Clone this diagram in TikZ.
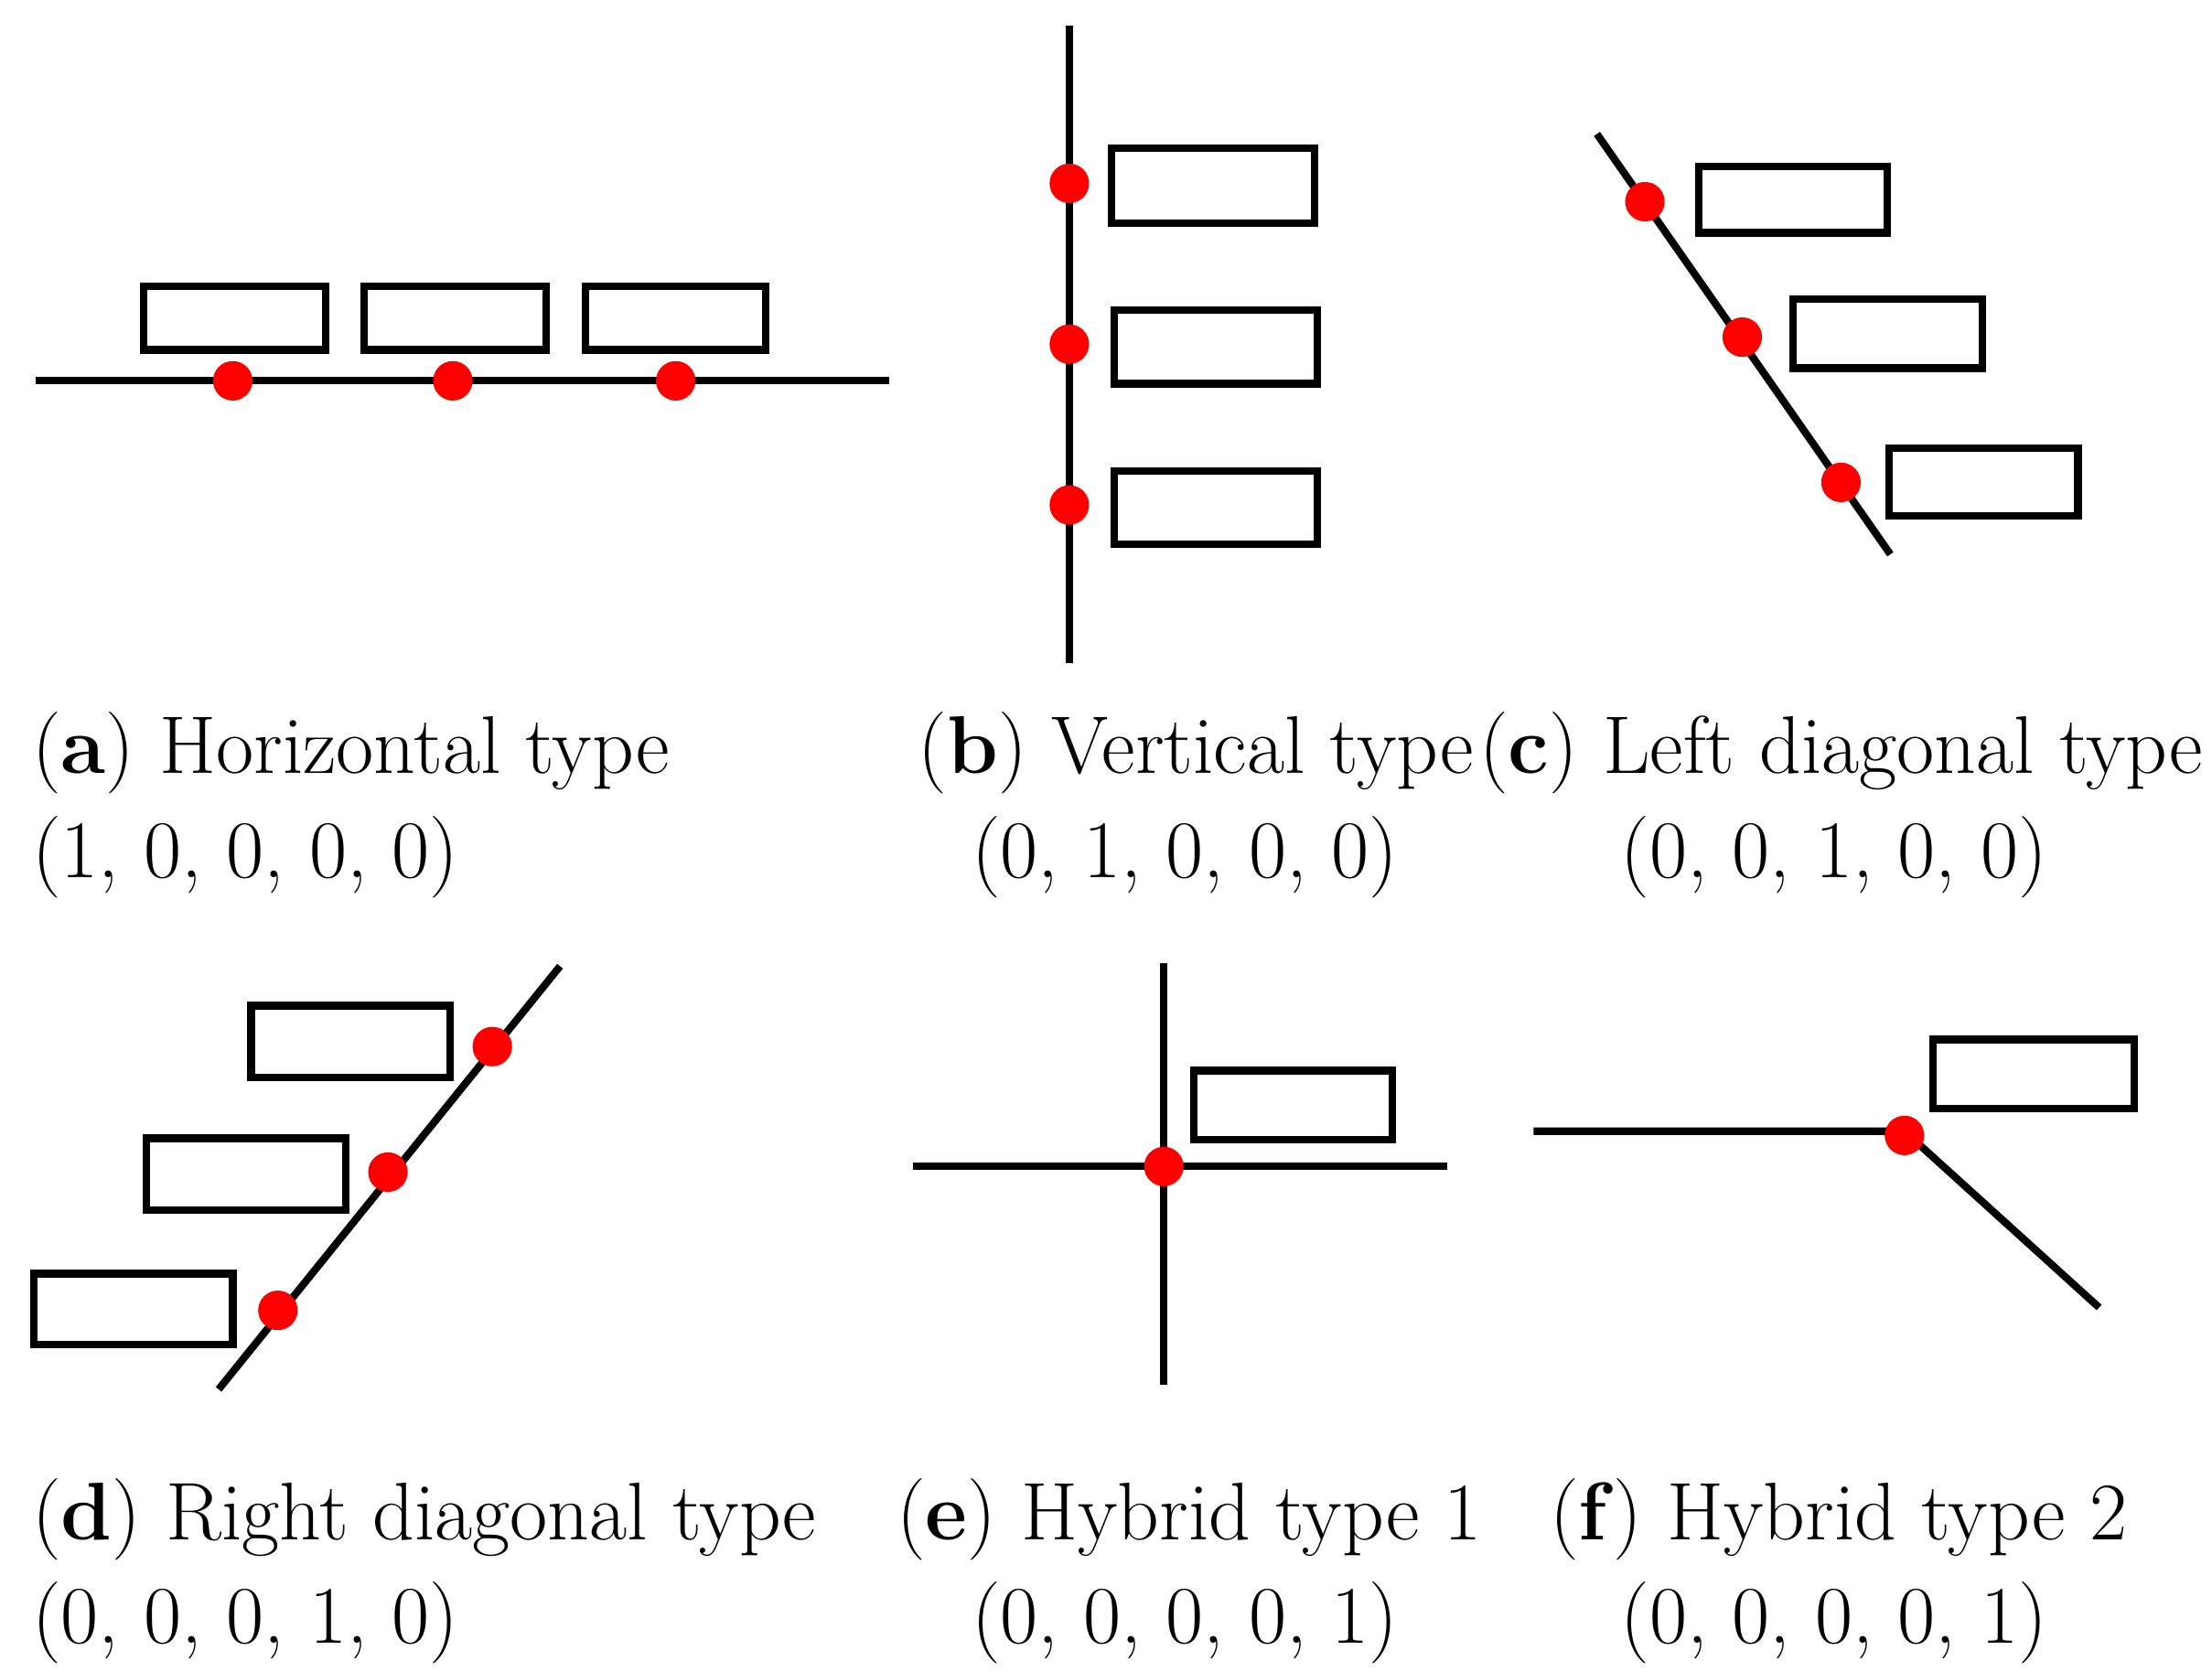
\documentclass[tikz,border=0pt]{standalone}
\begin{document}
\begin{tikzpicture}[x=0.01cm,y=-0.01cm,
 ln/.style={line width=1.5pt},
 bx/.style={draw,line width=1.5pt},
 dot/.style={circle,fill=red,inner sep=0pt,minimum size=0.28cm},
 lbl/.style={anchor=base west,inner sep=0pt,font=\fontsize{16.5}{20}\selectfont},
 lblc/.style={anchor=base,inner sep=0pt,font=\fontsize{16.5}{20}\selectfont}]
\useasboundingbox (0,0) rectangle (1568,1185);
% (a)
\draw[ln] (25,270) -- (630,270);
\draw[bx] (102,203) rectangle (231,248);
\draw[bx] (258,203) rectangle (387,248);
\draw[bx] (415,203) rectangle (543,248);
\node[dot] (a1) at (165,270) {};
\node[dot] (a2) at (321,270) {};
\node[dot] (a3) at (479,270) {};
% (b)
\draw[ln] (758,18) -- (758,470);
\draw[bx] (788,105) rectangle (932,158);
\draw[bx] (790,220) rectangle (934,272);
\draw[bx] (790,334) rectangle (934,386);
\node[dot] (b1) at (758,130) {};
\node[dot] (b2) at (758,244) {};
\node[dot] (b3) at (758,358) {};
% (c)
\draw[ln] (1132,95) -- (1340,393);
\draw[bx] (1204,118) rectangle (1338,165);
\draw[bx] (1271,212) rectangle (1405,261);
\draw[bx] (1339,318) rectangle (1473,366);
\node[dot] (c1) at (1166,143) {};
\node[dot] (c2) at (1235,239) {};
\node[dot] (c3) at (1305,342) {};
% (d)
\draw[ln] (155,985) -- (397,685);
\draw[bx] (178,713) rectangle (319,764);
\draw[bx] (104,807) rectangle (245,858);
\draw[bx] (24,903) rectangle (165,953);
\node[dot] (d1) at (349,742) {};
\node[dot] (d2) at (275,831) {};
\node[dot] (d3) at (197,929) {};
% (e)
\draw[ln] (825,683) -- (825,982);
\draw[ln] (647,827) -- (1026,827);
\draw[bx] (846,759) rectangle (987,808);
\node[dot] (e1) at (825,827) {};
% (f)
\draw[ln] (1087,802) -- (1350,802) -- (1488,927);
\draw[bx] (1370,737) rectangle (1513,786);
\node[dot] (f1) at (1350,805) {};
% captions
\node[lbl] (ta) at (22,548) {(\textbf{a}) Horizontal type};
\node[lbl] (va) at (22,622) {(1, 0, 0, 0, 0)};
\node[lbl] (tb) at (650,548) {(\textbf{b}) Vertical type};
\node[lblc] (vb) at (840,622) {(0, 1, 0, 0, 0)};
\node[lbl] (tc) at (1048,548) {(\textbf{c}) Left diagonal type};
\node[lblc] (vc) at (1300,622) {(0, 0, 1, 0, 0)};
\node[lbl] (td) at (22,1092) {(\textbf{d}) Right diagonal type};
\node[lbl] (vd) at (22,1165) {(0, 0, 0, 1, 0)};
\node[lbl] (te) at (635,1092) {(\textbf{e}) Hybrid type 1};
\node[lblc] (ve) at (840,1165) {(0, 0, 0, 0, 1)};
\node[lbl] (tf) at (1098,1092) {(\textbf{f}) Hybrid type 2};
\node[lblc] (vf) at (1300,1165) {(0, 0, 0, 0, 1)};
\end{tikzpicture}
\end{document}
